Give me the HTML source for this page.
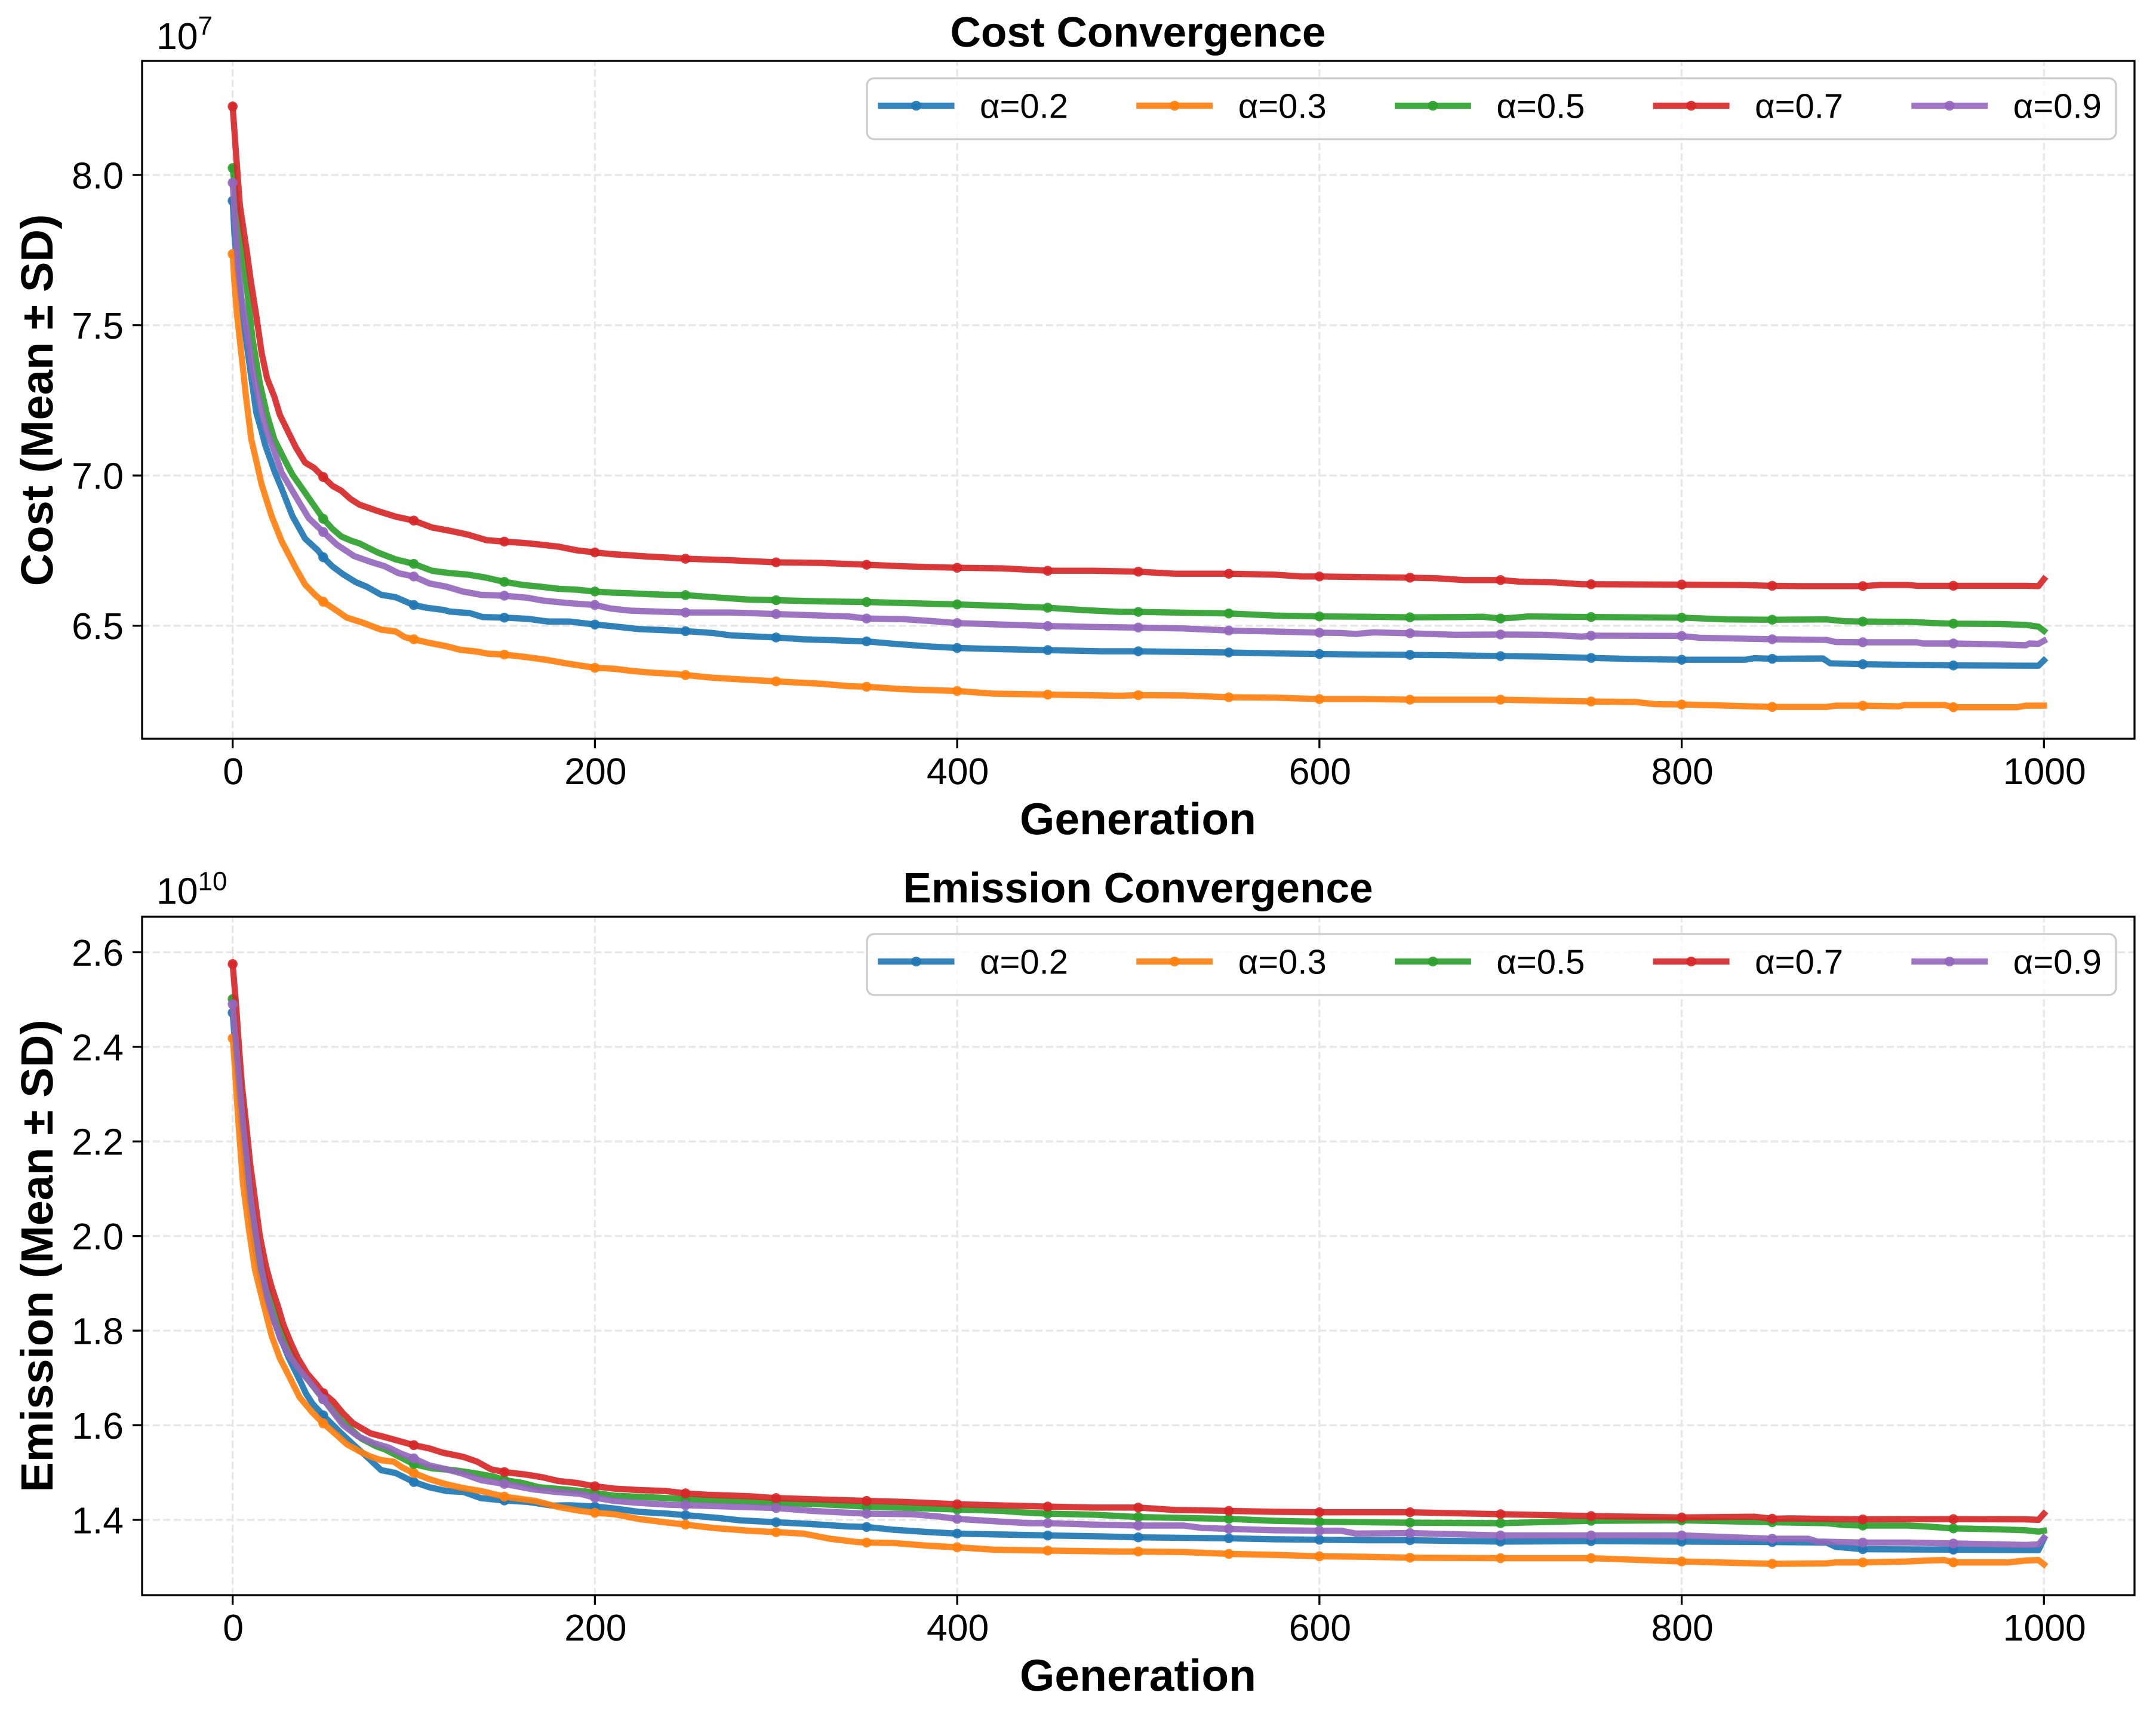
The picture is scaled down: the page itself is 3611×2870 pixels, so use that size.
<!DOCTYPE html>
<html lang="en">
<head>
<meta charset="utf-8">
<title>Cost and Emission Convergence</title>
<style>
html,body{margin:0;padding:0;background:#fff;}
svg{display:block;}
text{font-family:"Liberation Sans",Arial,sans-serif;fill:#000;text-rendering:geometricPrecision;}
.bold{font-weight:700;}
</style>
</head>
<body>
<svg id="figure" xmlns="http://www.w3.org/2000/svg" width="3611" height="2870" viewBox="0 0 3611 2870">
  <rect x="0" y="0" width="3611" height="2870" fill="#fff"/>
  <g id="cost-chart">
    <text class="bold" x="1906" y="78" font-size="71.2" text-anchor="middle">Cost Convergence</text>
    <text class="bold" transform="translate(88 670) rotate(-90)" font-size="75.8" text-anchor="middle">Cost (Mean ± SD)</text>
    <text class="bold" x="1906" y="1397" font-size="75" text-anchor="middle">Generation</text>
    <text x="262" y="82" font-size="62.5">10<tspan dy="-24" font-size="44">7</tspan></text>
  </g>
  <g id="emission-chart">
    <text class="bold" x="1906" y="1511" font-size="71.2" text-anchor="middle">Emission Convergence</text>
    <text class="bold" transform="translate(88 2103) rotate(-90)" font-size="75.8" text-anchor="middle">Emission (Mean ± SD)</text>
    <text class="bold" x="1906" y="2831" font-size="75" text-anchor="middle">Generation</text>
    <text x="262" y="1513.5" font-size="62.5">10<tspan dy="-23" font-size="44">10</tspan></text>
  </g>
</svg>
<script>
const seriesLabels = ['α=0.2', 'α=0.3', 'α=0.5', 'α=0.7', 'α=0.9'];
const seriesColors = ['#1f77b4', '#ff7f0e', '#2ca02c', '#d62728', '#9467bd'];
const xTickValues = [0, 200, 400, 600, 800, 1000];
const costYTicks = [6.5, 7.0, 7.5, 8.0];
const emissionYTicks = [1.4, 1.6, 1.8, 2.0, 2.2, 2.4, 2.6];

/* Cost, in units of 1e7 */
const costGen02 = [0,1,3,5,7,9.5,13,16,18,21,23,27,33,40,47,50,55,61,68,74,82,90,100,107,116,120,131,138,150,163,174,186,200,209,224,239,250,265,275,300,315,335,350,365,385,400,425,450,480,500,550,575,600,625,650,670,700,725,750,775,800,835,840,850,878,882,900,950,997,1000];
const costVal02 = [7.914,7.80,7.66,7.56,7.47,7.36,7.21,7.147,7.10,7.05,7.015,6.957,6.865,6.79,6.751,6.728,6.698,6.671,6.645,6.63,6.603,6.595,6.569,6.56,6.553,6.547,6.542,6.529,6.527,6.523,6.514,6.514,6.504,6.499,6.489,6.485,6.482,6.476,6.468,6.461,6.455,6.451,6.448,6.44,6.431,6.426,6.422,6.419,6.415,6.415,6.411,6.408,6.406,6.404,6.403,6.402,6.399,6.397,6.393,6.389,6.387,6.387,6.392,6.39,6.391,6.375,6.372,6.368,6.367,6.385];
const costGen03 = [0,1,2.4,5.4,7.6,10.3,13,16,21.5,27,35,40,46,50,57.5,63,71,82,90,95,100,108.5,118,125.6,135,141,150,163,174,184,200,210.6,220,231,243,250,265,285,300,325,340,350,370,400,420,450,490,500,525,550,575,600,625,650,700,750,775,785,800,825,850,880,885,900,920,923,945,950,985,990,1000];
const costVal03 = [7.737,7.64,7.534,7.372,7.25,7.12,7.05,6.97,6.865,6.782,6.69,6.637,6.6,6.58,6.55,6.527,6.512,6.487,6.481,6.462,6.455,6.443,6.432,6.42,6.414,6.407,6.404,6.395,6.386,6.375,6.36,6.357,6.35,6.344,6.34,6.336,6.327,6.32,6.315,6.307,6.299,6.297,6.289,6.283,6.274,6.271,6.267,6.269,6.268,6.262,6.261,6.256,6.256,6.254,6.254,6.248,6.246,6.239,6.238,6.234,6.23,6.23,6.234,6.234,6.232,6.236,6.236,6.229,6.229,6.234,6.234];
const costGen05 = [0,2,4,6,8,11,15,19,23,29,33,50,55,60,65,70,75,80,90,100,110,120,130,140,150,160,170,180,190,200,210,220,230,240,250,268,285,300,325,350,375,400,425,450,470,490,500,550,575,600,625,650,680,690,700,708,715,750,800,825,850,880,890,900,925,940,950,975,990,997,1000];
const costVal05 = [8.023,7.915,7.80,7.70,7.615,7.453,7.307,7.202,7.12,7.048,7.003,6.856,6.823,6.797,6.784,6.774,6.759,6.744,6.721,6.706,6.683,6.675,6.67,6.66,6.646,6.636,6.63,6.623,6.62,6.614,6.61,6.608,6.605,6.603,6.602,6.594,6.587,6.585,6.581,6.579,6.575,6.571,6.566,6.56,6.552,6.546,6.546,6.541,6.534,6.531,6.53,6.528,6.529,6.53,6.524,6.527,6.531,6.529,6.527,6.521,6.52,6.521,6.515,6.514,6.513,6.509,6.507,6.506,6.503,6.497,6.483];
const costGen07 = [0,2,4,6,8,10,13,16,19,23,26,30,35,40,45,50,55,60,65,70,80,90,100,110,120,130,140,150,160,170,180,190,200,210,220,230,240,250,275,300,325,350,370,400,425,450,475,500,520,550,575,590,600,625,650,665,680,700,710,730,745,750,800,830,850,865,900,910,925,930,950,990,997,1000];
const costVal07 = [8.228,8.061,7.899,7.818,7.737,7.648,7.534,7.408,7.323,7.262,7.202,7.153,7.092,7.043,7.025,6.995,6.966,6.949,6.922,6.903,6.882,6.863,6.85,6.827,6.816,6.803,6.785,6.78,6.776,6.77,6.763,6.751,6.744,6.738,6.734,6.73,6.727,6.723,6.718,6.711,6.709,6.703,6.698,6.693,6.691,6.683,6.683,6.68,6.673,6.673,6.67,6.664,6.664,6.662,6.66,6.658,6.652,6.652,6.647,6.644,6.638,6.638,6.637,6.636,6.633,6.632,6.632,6.636,6.636,6.633,6.633,6.633,6.632,6.655];
const costGen09 = [0,1,3,5,7,9,11,14,18,23,27,36,42,50,57.5,67,76,84,91.5,100,108.5,118,127,137,150,163,171,184,200,209,220,250,275,300,325,340,350,370,385,400,425,450,475,500,525,550,575,600,612,620,630,650,675,700,725,745,750,800,810,850,880,885,900,930,933,950,975,990,992,997,1000];
const costVal09 = [7.974,7.875,7.696,7.583,7.51,7.437,7.348,7.267,7.161,7.08,7.01,6.918,6.858,6.812,6.77,6.732,6.713,6.698,6.675,6.664,6.641,6.63,6.614,6.603,6.6,6.593,6.584,6.576,6.569,6.557,6.55,6.544,6.544,6.539,6.534,6.531,6.524,6.522,6.516,6.509,6.504,6.499,6.496,6.494,6.491,6.484,6.481,6.477,6.476,6.473,6.478,6.475,6.47,6.471,6.47,6.464,6.467,6.466,6.46,6.455,6.453,6.446,6.445,6.445,6.441,6.441,6.438,6.435,6.441,6.44,6.45];

/* Emission, in units of 1e10 */
const emissionGen02 = [0,2,5,8,12,16,20,25.5,31,37.6,40.5,44,50,59.4,67,74.5,82,90,100,108.6,118,127.5,137,150,163,176.6,186,200,210.7,224,240.5,250,268,280,300,320,340,350,365,385,400,425,450,480,500,550,575,600,625,650,700,750,800,850,880,885,900,950,997,1000];
const emissionVal02 = [2.472,2.37,2.23,2.11,1.985,1.905,1.85,1.794,1.742,1.691,1.667,1.646,1.621,1.585,1.558,1.532,1.505,1.499,1.48,1.469,1.461,1.459,1.446,1.441,1.438,1.43,1.431,1.428,1.424,1.417,1.413,1.41,1.404,1.399,1.395,1.391,1.386,1.385,1.379,1.374,1.371,1.369,1.367,1.365,1.363,1.361,1.359,1.358,1.357,1.357,1.354,1.355,1.354,1.353,1.352,1.343,1.338,1.337,1.336,1.36];
const emissionGen03 = [0,1,1.6,2.4,3.2,5.7,9,12.3,17.3,21.6,26,32,37,44,50,57.5,63,71,76,82,89,93.5,100,108.6,118,127.5,137,150,167,180,192,200,210.7,224,240.5,250,265,285,300,315,330,345,350,365,385,400,420,450,490,500,525,550,575,600,625,650,700,750,800,850,880,885,900,925,935,945,950,980,990,997,1000];
const emissionVal03 = [2.418,2.37,2.335,2.284,2.239,2.11,2.013,1.929,1.852,1.788,1.742,1.697,1.659,1.627,1.604,1.579,1.56,1.543,1.534,1.526,1.523,1.511,1.499,1.486,1.475,1.467,1.461,1.449,1.44,1.427,1.419,1.415,1.412,1.402,1.394,1.39,1.383,1.377,1.374,1.371,1.36,1.353,1.352,1.351,1.345,1.342,1.337,1.335,1.333,1.333,1.332,1.328,1.326,1.323,1.322,1.32,1.319,1.319,1.312,1.307,1.308,1.31,1.31,1.312,1.314,1.315,1.31,1.31,1.314,1.315,1.306];
const emissionGen05 = [0,2,5,8,11,14,17,21,25,30,36,42,50,60,71,79,84,100,110,122,133,144.5,150,160,169,184,195,200,210.7,235,250,262,300,325,350,400,425,435,450,475,500,550,575,600,625,650,700,750,800,850,880,890,900,925,935,950,975,990,997,1000];
const emissionVal05 = [2.501,2.42,2.30,2.17,2.06,1.985,1.925,1.865,1.815,1.77,1.725,1.695,1.655,1.61,1.572,1.556,1.549,1.518,1.509,1.505,1.499,1.491,1.484,1.478,1.469,1.464,1.46,1.457,1.451,1.447,1.444,1.442,1.436,1.433,1.428,1.422,1.419,1.416,1.413,1.411,1.406,1.402,1.398,1.396,1.395,1.394,1.393,1.398,1.399,1.395,1.393,1.389,1.388,1.388,1.386,1.382,1.38,1.378,1.375,1.377];
const emissionGen07 = [0,2,3.5,5,7.4,9.6,12.3,15,18.4,21.6,25,28,32,36,41,46,50,55.6,61,66.5,76,84,91.5,100,108.6,116,127.5,135,142.6,150,161.5,171,180,190,200,210.7,224,239,250,262,285,300,350,370,400,450,475,500,520,550,575,600,625,650,700,750,800,840,850,860,900,950,990,997,1000];
const emissionVal07 = [2.575,2.483,2.4,2.322,2.239,2.155,2.078,2.0,1.936,1.891,1.852,1.813,1.775,1.742,1.71,1.688,1.668,1.65,1.625,1.604,1.583,1.575,1.567,1.558,1.551,1.542,1.533,1.523,1.507,1.501,1.496,1.49,1.482,1.478,1.471,1.466,1.463,1.461,1.456,1.453,1.45,1.446,1.44,1.438,1.433,1.428,1.426,1.426,1.421,1.419,1.417,1.416,1.416,1.416,1.412,1.408,1.405,1.4066,1.4023,1.403,1.401,1.4015,1.401,1.4,1.413];
const emissionGen09 = [0,1.3,3.5,5.7,8,10,13,16,19.5,23,26.5,31,37,42,50,61,69,78,86,93.5,100,108.6,118,127.5,137,150,165,178.5,192,200,210.7,224,240.5,250,275,300,320,350,375,390,400,425,440,450,475,500,525,535,550,575,600,612,620,650,700,750,800,850,870,875,900,925,950,990,997,1000];
const emissionVal09 = [2.49,2.432,2.335,2.239,2.155,2.078,2.0,1.929,1.865,1.82,1.781,1.749,1.717,1.694,1.655,1.60,1.577,1.562,1.553,1.539,1.53,1.515,1.507,1.497,1.484,1.476,1.465,1.459,1.455,1.447,1.44,1.436,1.432,1.431,1.428,1.425,1.419,1.413,1.412,1.407,1.402,1.396,1.393,1.393,1.39,1.388,1.388,1.383,1.381,1.378,1.377,1.377,1.371,1.372,1.367,1.367,1.367,1.36,1.36,1.354,1.352,1.352,1.35,1.347,1.348,1.362];

/* Faint standard-deviation band, same units as the series */
const sdGenerations = [0, 10, 50, 200, 1000];
const costSd = [0.05, 0.02, 0.012, 0.011, 0.01];
const emissionSd = [0.037, 0.015, 0.008, 0.007, 0.007];

const SVG_NS = 'http://www.w3.org/2000/svg';
const figure = document.getElementById('figure');

function makeNode(tag, attrs, parent) {
  const node = document.createElementNS(SVG_NS, tag);
  Object.keys(attrs).forEach(function (k) { node.setAttribute(k, attrs[k]); });
  parent.appendChild(node);
  return node;
}

function linearScale(d0, d1, r0, r1) {
  return function (v) { return r0 + (v - d0) * (r1 - r0) / (d1 - d0); };
}

function sdAt(gen, sdValues) {
  for (let i = 1; i < sdGenerations.length; i++) {
    if (gen <= sdGenerations[i]) {
      const t = (gen - sdGenerations[i - 1]) / (sdGenerations[i] - sdGenerations[i - 1]);
      return sdValues[i - 1] + t * (sdValues[i] - sdValues[i - 1]);
    }
  }
  return sdValues[sdValues.length - 1];
}

function drawChart(cfg) {
  const root = document.getElementById(cfg.rootId);
  const box = cfg.box;
  const xScale = linearScale(-50, 1050, box.left, box.right);
  const yScale = linearScale(cfg.yMin, cfg.yMax, box.bottom, box.top);
  const slug = cfg.slug;

  const gridGroup = makeNode('g', {}, root);
  
  
  xTickValues.forEach(function (t) {
    const el = makeNode('line', { x1: xScale(t), x2: xScale(t), y1: box.bottom, y2: box.top, stroke: '#e7e7e7', 'stroke-width': 3.3, 'stroke-dasharray': '12.3 5.3' }, gridGroup);
    
    
  });
  cfg.yTicks.forEach(function (t) {
    const el = makeNode('line', { x1: box.left, x2: box.right, y1: yScale(t), y2: yScale(t), stroke: '#e7e7e7', 'stroke-width': 3.3, 'stroke-dasharray': '12.3 5.3' }, gridGroup);
    
    
  });

  cfg.series.forEach(function (s, i) {
    const upper = s.gens.map(function (g, k) { return xScale(g).toFixed(1) + ',' + yScale(s.vals[k] + sdAt(g, cfg.sd)).toFixed(1); });
    const lower = s.gens.map(function (g, k) { return xScale(g).toFixed(1) + ',' + yScale(s.vals[k] - sdAt(g, cfg.sd)).toFixed(1); }).reverse();
    const band = makeNode('polygon', { points: upper.concat(lower).join(' '), fill: seriesColors[i], 'fill-opacity': 0.15 }, root);
    
    
  });

  cfg.series.forEach(function (s, i) {
    const group = makeNode('g', { opacity: 0.9 }, root);
    
    
    const pts = s.gens.map(function (g, k) { return xScale(g).toFixed(1) + ',' + yScale(s.vals[k]).toFixed(1); }).join(' ');
    const line = makeNode('polyline', { points: pts, fill: 'none', stroke: seriesColors[i], 'stroke-width': 10.4, 'stroke-linejoin': 'round', 'stroke-linecap': 'square' }, group);
    
    
    s.gens.forEach(function (g, k) {
      if (g % 50 === 0 && g < 1000) {
        const dot = makeNode('circle', { cx: xScale(g), cy: yScale(s.vals[k]), r: 8.3, fill: seriesColors[i] }, root);
        dot.setAttribute('opacity', 0.9);
        
        
      }
    });
  });

  const frame = makeNode('rect', { x: box.left, y: box.top, width: box.right - box.left, height: box.bottom - box.top, fill: 'none', stroke: '#000', 'stroke-width': 3.3 }, root);
  
  

  xTickValues.forEach(function (t) {
    const tick = makeNode('line', { x1: xScale(t), x2: xScale(t), y1: box.bottom, y2: box.bottom + 16, stroke: '#000', 'stroke-width': 3.3 }, root);
    
    
    const label = makeNode('text', { x: xScale(t) + 1, y: box.bottom + 76, 'font-size': 62.5, 'text-anchor': 'middle' }, root);
    label.textContent = String(t);
    
    
  });
  cfg.yTicks.forEach(function (t) {
    const tick = makeNode('line', { x1: box.left - 16, x2: box.left, y1: yScale(t), y2: yScale(t), stroke: '#000', 'stroke-width': 3.3 }, root);
    
    
    const label = makeNode('text', { x: 207, y: yScale(t) + 22.4, 'font-size': 62.5, 'text-anchor': 'end' }, root);
    label.textContent = t.toFixed(1);
    
    
  });

  const legend = makeNode('g', {}, root);
  
  
  const legendTop = box.top + 29;
  const legendCy = box.top + 75;
  const legendFrame = makeNode('rect', { x: 1452, y: legendTop, width: 2092, height: 102, rx: 12, ry: 12, fill: '#fff', 'fill-opacity': 0.8, stroke: '#cccccc', 'stroke-width': 3.3 }, legend);
  
  
  seriesLabels.forEach(function (name, i) {
    const x0 = 1470.5 + i * 432.7;
    const handle = makeNode('line', { x1: x0, x2: x0 + 128, y1: legendCy, y2: legendCy, stroke: seriesColors[i], 'stroke-width': 10.4, 'stroke-opacity': 0.9 }, legend);
    
    
    const mark = makeNode('circle', { cx: x0 + 64, cy: legendCy, r: 8.3, fill: seriesColors[i], 'fill-opacity': 0.9 }, legend);
    
    
    const label = makeNode('text', { x: x0 + 170.5, y: legendCy + 20.5, 'font-size': 58 }, legend);
    label.textContent = name;
    
    
  });
}

drawChart({
  rootId: 'cost-chart',
  slug: 'cost',
  box: { left: 238, right: 3575, top: 102, bottom: 1237 },
  yMin: 6.124,
  yMax: 8.3795,
  yTicks: costYTicks,
  sd: costSd,
  series: [
    { gens: costGen02, vals: costVal02 },
    { gens: costGen03, vals: costVal03 },
    { gens: costGen05, vals: costVal05 },
    { gens: costGen07, vals: costVal07 },
    { gens: costGen09, vals: costVal09 }
  ]
});

drawChart({
  rootId: 'emission-chart',
  slug: 'emission',
  box: { left: 238, right: 3575, top: 1535, bottom: 2671 },
  yMin: 1.2408,
  yMax: 2.6751,
  yTicks: emissionYTicks,
  sd: emissionSd,
  series: [
    { gens: emissionGen02, vals: emissionVal02 },
    { gens: emissionGen03, vals: emissionVal03 },
    { gens: emissionGen05, vals: emissionVal05 },
    { gens: emissionGen07, vals: emissionVal07 },
    { gens: emissionGen09, vals: emissionVal09 }
  ]
});
</script>
</body>
</html>
